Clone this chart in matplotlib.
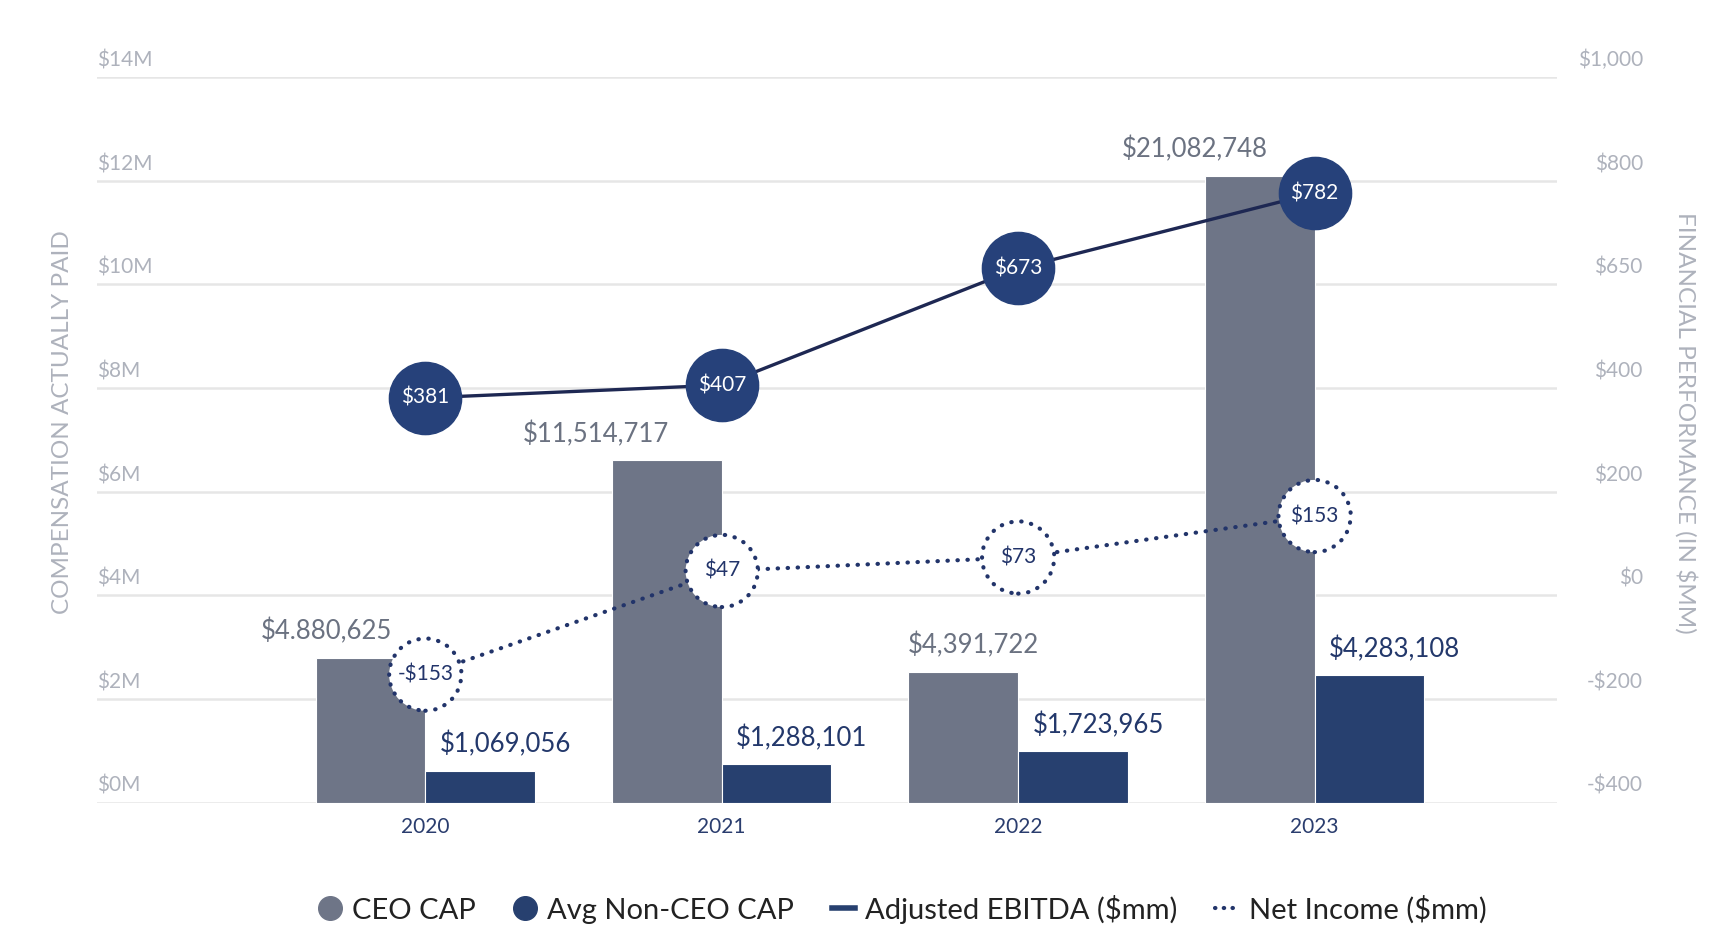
import numpy as np
import matplotlib
matplotlib.use('Agg')
import matplotlib.pyplot as plt
from matplotlib.lines import Line2D

plt.rcParams['font.family'] = ['Lato', 'DejaVu Sans']

# data
years = ['2020', '2021', '2022', '2023']
ceo_cap = [4880625, 11514717, 4391722, 21082748]
non_ceo_cap = [1069056, 1288101, 1723965, 4283108]
ceo_labels = ['$4.880,625', '$11,514,717', '$4,391,722', '$21,082,748']
non_ceo_labels = ['$1,069,056', '$1,288,101', '$1,723,965', '$4,283,108']
ebitda = [381, 407, 673, 782]
net_income = [-153, 47, 73, 153]

left_tick_labels = ['$0M', '$2M', '$4M', '$6M', '$8M', '$10M', '$12M', '$14M']
right_ticks = [-400, -200, 0, 200, 400, 650, 800, 1000]
right_tick_labels = ['-$400', '-$200', '$0', '$200', '$400', '$650', '$800', '$1,000']

# the left axis is drawn with $14M standing at ~24.4M of actual CAP
cap_axis_top = 24.4e6

CEO_GREY = '#6e7587'
NAVY = '#27406f'
LINE_NAVY = '#1e2853'
TICK_GREY = '#aeb2bc'
GRID = '#e6e6e6'

fig = plt.figure(figsize=(17.22, 9.51), dpi=100)
ax = fig.add_axes([0.0564, 0.156, 0.848, 0.763])
ax2 = ax.twinx()

x = np.arange(len(years))
w = 0.37

ax.bar(x - w / 2, ceo_cap, w, color=CEO_GREY, edgecolor='white', linewidth=0.8)
ax.bar(x + w / 2, non_ceo_cap, w, color=NAVY, edgecolor='white', linewidth=0.8)

ceo_label_shift = [-32, -51, 7, -47]
for i in range(len(years)):
    ax.annotate(ceo_labels[i], (x[i] - w / 2, ceo_cap[i]), xytext=(ceo_label_shift[i], 19),
                textcoords='offset points', ha='center', va='center', fontsize=18.5, color='#6b7281')
    ax.annotate(non_ceo_labels[i], (x[i] + w / 2, non_ceo_cap[i]), xytext=(18, 19),
                textcoords='offset points', ha='center', va='center', fontsize=18.5, color='#23386b')

left_pos = np.linspace(0, cap_axis_top, len(left_tick_labels))
ax.set_ylim(0, cap_axis_top)
ax.set_yticks(left_pos)
ax.set_xlim(-1.107, 3.819)
ax.set_xticks(x)
ax.set_xticklabels(years, fontsize=15, color='#2a3d6e')
ax.tick_params(axis='x', length=0, pad=10)
ax.tick_params(axis='y', length=0, labelleft=False)
ax.grid(axis='y', color=GRID, linewidth=1.8)
ax.set_axisbelow(True)
for sp in ax.spines.values():
    sp.set_visible(False)

for pos, lab in zip(left_pos, left_tick_labels):
    ax.annotate(lab, (0, pos), xycoords=('axes fraction', 'data'), xytext=(0, 12),
                textcoords='offset points', ha='left', va='center', fontsize=15,
                color=TICK_GREY)


# right axis: equally spaced ticks with uneven values -> piecewise linear scale
def fwd(v):
    return np.interp(v, right_ticks, np.arange(len(right_ticks)))


def inv(p):
    return np.interp(p, np.arange(len(right_ticks)), right_ticks)


ax2.set_yscale('function', functions=(fwd, inv))
ax2.set_ylim(right_ticks[0], right_ticks[-1])
ax2.set_yticks(right_ticks)
ax2.tick_params(axis='y', length=0, labelright=False)
for sp in ax2.spines.values():
    sp.set_visible(False)

for v, lab in zip(right_ticks, right_tick_labels):
    ax2.annotate(lab, (1.0585, v), xycoords=('axes fraction', 'data'), xytext=(0, 12),
                 textcoords='offset points', ha='right', va='center', fontsize=15,
                 color=TICK_GREY)

# adjusted EBITDA
ax2.plot(x, ebitda, color=LINE_NAVY, linewidth=2.4, zorder=3)
ax2.scatter(x, ebitda, s=52 ** 2, color='#26417a', zorder=4)
for xi, v in zip(x, ebitda):
    ax2.text(xi, v, f'${v}', ha='center', va='center', fontsize=15, color='white', zorder=5)

# net income
ax2.plot(x, net_income, color='#22346a', linewidth=3, linestyle=(0, (0.1, 2.3)),
         dash_capstyle='round', zorder=3)
ax2.scatter(x, net_income, s=52 ** 2, facecolor='white', edgecolor='#22346a', linewidths=3,
            linestyle=(0, (0.1, 2.3)), capstyle='round', zorder=4)
for xi, v in zip(x, net_income):
    lab = f'-${-v}' if v < 0 else f'${v}'
    ax2.text(xi, v, lab, ha='center', va='center', fontsize=15, color='#22346a', zorder=5)

fig.text(0.0365, 0.556, 'COMPENSATION ACTUALLY PAID', rotation=90, ha='center', va='center',
         fontsize=17.5, color=TICK_GREY)
fig.text(0.979, 0.555, 'FINANCIAL PERFORMANCE (IN $MM)', rotation=270, ha='center', va='center',
         fontsize=17.5, color=TICK_GREY)

handles = [
    Line2D([], [], linestyle='none', marker='o', markersize=17, color=CEO_GREY),
    Line2D([], [], linestyle='none', marker='o', markersize=17, color=NAVY),
    Line2D([], [], color=NAVY, linewidth=4),
    Line2D([], [], color='#22346a', linewidth=3, linestyle=(0, (0.1, 2.0)), dash_capstyle='round'),
]
names = ['CEO CAP', 'Avg Non-CEO CAP', 'Adjusted EBITDA ($mm)', 'Net Income ($mm)']
fig.legend(handles, names, loc='center', bbox_to_anchor=(0.524, 0.044), ncol=4, frameon=False,
           fontsize=21, handlelength=0.8, handletextpad=0.35, columnspacing=1.3,
           labelcolor='#222222')

fig.savefig('out.png', dpi=100, facecolor='white')
